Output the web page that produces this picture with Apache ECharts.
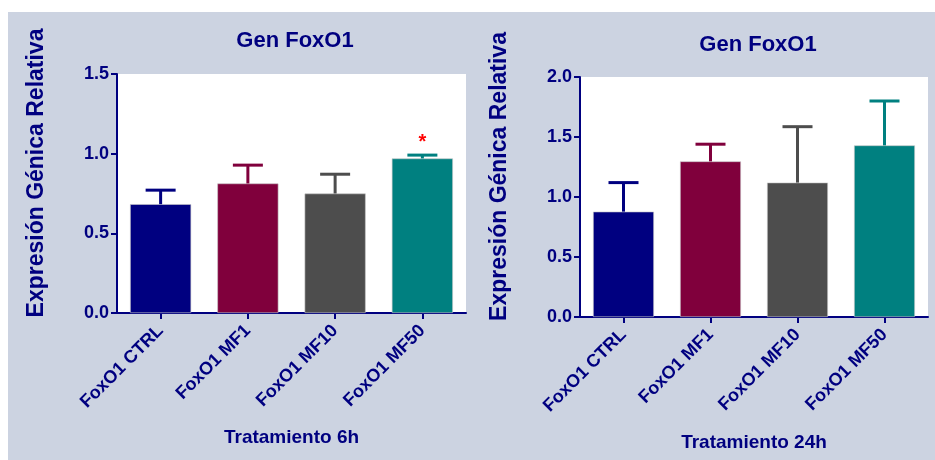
<!DOCTYPE html>
<html>
<head>
<meta charset="utf-8">
<script src="https://cdn.jsdelivr.net/npm/echarts@6/dist/echarts.min.js"></script>
<style>
  html, body { margin: 0; padding: 0; background: #ffffff; }
  #wrap { position: relative; width: 935px; height: 460px; }
  #panel { position: absolute; left: 8px; top: 12px; width: 927px; height: 448px; background: #ccd3e1; }
  #chart { position: absolute; left: 0; top: 0; width: 935px; height: 460px; }
</style>
</head>
<body>
<div id="wrap">
  <div id="panel"></div>
  <div id="chart"></div>
</div>
<script>
// Relative FoxO1 expression, mean and SEM per treatment group
const categories = ['FoxO1 CTRL', 'FoxO1 MF1', 'FoxO1 MF10', 'FoxO1 MF50'];
const mean6h = [0.683, 0.813, 0.750, 0.970];
const sem6h = [0.088, 0.115, 0.121, 0.021];
const sig6h = ['', '', '', '*'];
const mean24h = [0.878, 1.297, 1.120, 1.430];
const sem24h = [0.242, 0.143, 0.466, 0.370];
const sig24h = ['', '', '', ''];
const yTicks6h = { min: 0, max: 1.5, interval: 0.5 };
const yTicks24h = { min: 0, max: 2.0, interval: 0.5 };
const barColors = ['#000080', '#80003c', '#4d4d4d', '#008080'];

const NAVY = '#000080';
const FONT = "'Liberation Sans', Arial, sans-serif";

const chart = echarts.init(document.getElementById('chart'), null, { renderer: 'canvas' });

function yAxisCfg(gridIndex, ticks) {
  return {
    type: 'value', gridIndex: gridIndex,
    min: ticks.min, max: ticks.max, interval: ticks.interval,
    name: 'Expresión Génica Relativa',
    nameLocation: 'middle', nameGap: 69, nameRotate: 90,
    nameTextStyle: { color: NAVY, fontFamily: FONT, fontWeight: 'bold', fontSize: 23, padding: [0, 0, 0, 41] },
    axisLine: { show: true, lineStyle: { color: NAVY, width: 2 } },
    axisTick: { show: true, length: 6, lineStyle: { color: NAVY, width: 2 } },
    axisLabel: { color: NAVY, fontFamily: FONT, fontWeight: 'bold', fontSize: 18, margin: 8,
      formatter: v => v.toFixed(1) },
    splitLine: { show: false }
  };
}

function xAxisCfg(gridIndex, name, gap) {
  return {
    type: 'category', gridIndex: gridIndex, data: categories,
    name: name, nameLocation: 'middle', nameGap: gap,
    nameTextStyle: { color: NAVY, fontFamily: FONT, fontWeight: 'bold', fontSize: 19 },
    axisLine: { show: true, lineStyle: { color: NAVY, width: 2 } },
    axisTick: { show: true, alignWithLabel: true, length: 6, lineStyle: { color: NAVY, width: 2 } },
    axisLabel: { color: NAVY, fontFamily: FONT, fontWeight: 'bold', fontSize: 18, rotate: 45, margin: 15, interval: 0 },
    splitLine: { show: false }
  };
}

function barSeries(idx, means) {
  return {
    type: 'bar', xAxisIndex: idx, yAxisIndex: idx, barWidth: '70%',
    data: means.map((v, i) => ({ value: v, itemStyle: { color: barColors[i], borderColor: '#c8c8c8', borderWidth: 0.6 } })),
    silent: true, z: 2
  };
}

function errorSeries(idx, means, sems, sig) {
  return {
    type: 'custom', xAxisIndex: idx, yAxisIndex: idx, z: 3, silent: true,
    data: means.map((m, i) => [i, m, m + sems[i], sig[i]]),
    encode: { x: 0, y: [1, 2] },
    renderItem: function (params, api) {
      const i = api.value(0);
      const base = api.coord([i, api.value(1)]);
      const top = api.coord([i, api.value(2)]);
      const color = barColors[i];
      const half = 15;
      const children = [
        { type: 'line', shape: { x1: base[0], y1: base[1], x2: top[0], y2: top[1] },
          style: { stroke: color, lineWidth: 3 } },
        { type: 'line', shape: { x1: top[0] - half, y1: top[1], x2: top[0] + half, y2: top[1] },
          style: { stroke: color, lineWidth: 3 } }
      ];
      const mark = sig[i];
      if (mark) {
        children.push({ type: 'text', style: { text: mark, x: top[0], y: top[1] - 13,
          fill: '#ff0000', font: 'bold 20px ' + FONT, align: 'center', verticalAlign: 'middle' } });
      }
      return { type: 'group', children: children };
    }
  };
}

const option = {
  animation: false,
  backgroundColor: 'transparent',
  title: [
    { text: 'Gen FoxO1', left: 290, top: 25, textAlign: 'center',
      textStyle: { color: NAVY, fontFamily: FONT, fontWeight: 'bold', fontSize: 22 } },
    { text: 'Gen FoxO1', left: 753, top: 29, textAlign: 'center',
      textStyle: { color: NAVY, fontFamily: FONT, fontWeight: 'bold', fontSize: 22 } }
  ],
  grid: [
    { left: 117, top: 74, width: 349, height: 239, show: true, backgroundColor: '#ffffff', borderWidth: 0 },
    { left: 580, top: 77, width: 348, height: 240, show: true, backgroundColor: '#ffffff', borderWidth: 0 }
  ],
  xAxis: [xAxisCfg(0, 'Tratamiento 6h', 115), xAxisCfg(1, 'Tratamiento 24h', 116)],
  yAxis: [yAxisCfg(0, yTicks6h), yAxisCfg(1, yTicks24h)],
  series: [
    barSeries(0, mean6h), errorSeries(0, mean6h, sem6h, sig6h),
    barSeries(1, mean24h), errorSeries(1, mean24h, sem24h, sig24h)
  ]
};

chart.setOption(option);
</script>
</body>
</html>
